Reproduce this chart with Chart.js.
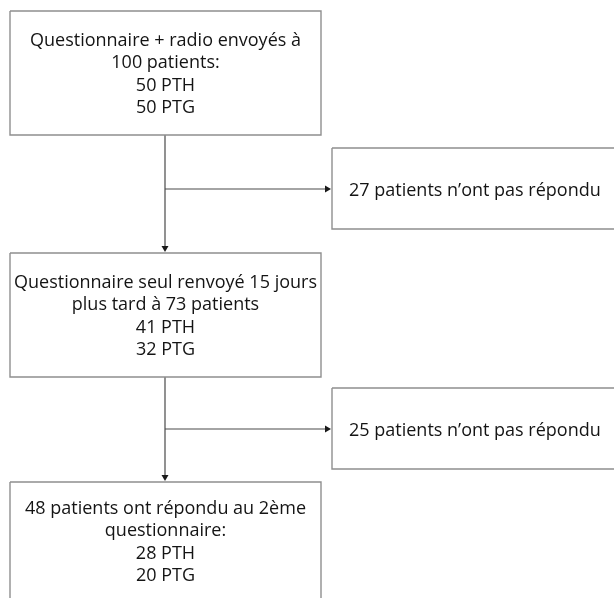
<!DOCTYPE html>
<html>
<head>
<meta charset="utf-8">
<script src="https://cdn.jsdelivr.net/npm/chart.js@4"></script>
<style>
  html, body { margin: 0; padding: 0; background: #fff; }
  canvas { display: block; }
</style>
</head>
<body>
<canvas id="fluxChart" width="614" height="598"></canvas>
<script>
// effectifs par étape
const envoyes = [100, 73, 48];
const pth = [50, 41, 28];
const ptg = [50, 32, 20];
const sansReponse = [27, 25];

// textes des cases
const textesEtapes = [
    ['Questionnaire + radio envoyés à', envoyes[0] + ' patients:', pth[0] + ' PTH', ptg[0] + ' PTG'],
    ['Questionnaire seul renvoyé 15 jours', 'plus tard à ' + envoyes[1] + ' patients', pth[1] + ' PTH', ptg[1] + ' PTG'],
    [envoyes[2] + ' patients ont répondu au 2ème', 'questionnaire:', pth[2] + ' PTH', ptg[2] + ' PTG']
];
const textesSorties = sansReponse.map(n => n + ' patients n\u2019ont pas répondu');

// mise en page (unités des axes)
const casesEtapes = [
    { x0: 10, x1: 321, y0: 11, y1: 135, texte: 34.5 },
    { x0: 10, x1: 321, y0: 253, y1: 377, texte: 34.5 },
    { x0: 10, x1: 321, y0: 482, y1: 640, texte: 31.5 }
];
const casesSorties = [
    { x0: 332, x1: 640, y0: 148, y1: 229 },
    { x0: 332, x1: 640, y0: 388, y1: 469 }
];
const troncX = 165;
const brancheY = [189, 429];

const GRIS_CASE = '#8f8f8f';
const GRIS_FLECHE = '#4a4a4a';

function contour(c) {
    return [
        { x: c.x0, y: c.y0 }, { x: c.x1, y: c.y0 },
        { x: c.x1, y: c.y1 }, { x: c.x0, y: c.y1 }, { x: c.x0, y: c.y0 }
    ];
}

const datasets = [];
casesEtapes.concat(casesSorties).forEach(c => {
    datasets.push({ data: contour(c), borderColor: GRIS_CASE, borderWidth: 1.4 });
});
// troncs verticaux et branches vers les non-répondants
for (let i = 0; i < casesEtapes.length - 1; i++) {
    datasets.push({
        data: [{ x: troncX, y: casesEtapes[i].y1 }, { x: troncX, y: casesEtapes[i + 1].y0 - 7 }],
        borderColor: GRIS_FLECHE, borderWidth: 1.2, fleche: 'bas'
    });
    datasets.push({
        data: [{ x: troncX, y: brancheY[i] }, { x: casesSorties[i].x0 - 7, y: brancheY[i] }],
        borderColor: GRIS_FLECHE, borderWidth: 1.2, fleche: 'droite'
    });
}

const dessinTextes = {
    id: 'dessinTextes',
    afterDatasetsDraw(chart) {
        const { ctx, scales: { x, y } } = chart;
        ctx.save();
        // pointes de flèche
        ctx.fillStyle = '#1a1a1a';
        chart.data.datasets.forEach(ds => {
            if (!ds.fleche) return;
            const p = ds.data[ds.data.length - 1];
            const px = x.getPixelForValue(p.x), py = y.getPixelForValue(p.y);
            ctx.beginPath();
            if (ds.fleche === 'bas') {
                ctx.moveTo(px - 3.5, py); ctx.lineTo(px + 3.5, py); ctx.lineTo(px, py + 6);
            } else {
                ctx.moveTo(px, py - 3.5); ctx.lineTo(px, py + 3.5); ctx.lineTo(px + 6, py);
            }
            ctx.closePath();
            ctx.fill();
        });
        ctx.fillStyle = '#141414';
        ctx.font = '18px "Open Sans", "Noto Sans", sans-serif';
        ctx.textAlign = 'center';
        ctx.textBaseline = 'alphabetic';
        const interligne = 22.5;
        textesEtapes.forEach((lignes, i) => {
            const c = casesEtapes[i];
            const cx = x.getPixelForValue((c.x0 + c.x1) / 2);
            const base = y.getPixelForValue(c.y0) + c.texte;
            lignes.forEach((t, k) => ctx.fillText(t, cx, base + k * interligne));
        });
        ctx.textAlign = 'left';
        textesSorties.forEach((t, i) => {
            const c = casesSorties[i];
            ctx.fillText(t, x.getPixelForValue(c.x0) + 17, y.getPixelForValue(brancheY[i]) + 6.5);
        });
        ctx.restore();
    }
};

new Chart(document.getElementById('fluxChart'), {
    type: 'scatter',
    data: { datasets: datasets.map(d => Object.assign({ showLine: true, pointRadius: 0, fill: false, clip: false }, d)) },
    options: {
        responsive: false,
        animation: false,
        layout: { padding: 0 },
        plugins: { legend: { display: false }, tooltip: { enabled: false } },
        scales: {
            x: { type: 'linear', min: 0, max: 614, display: false },
            y: { type: 'linear', min: 0, max: 598, reverse: true, display: false }
        }
    },
    plugins: [dessinTextes]
});
</script>
</body>
</html>
